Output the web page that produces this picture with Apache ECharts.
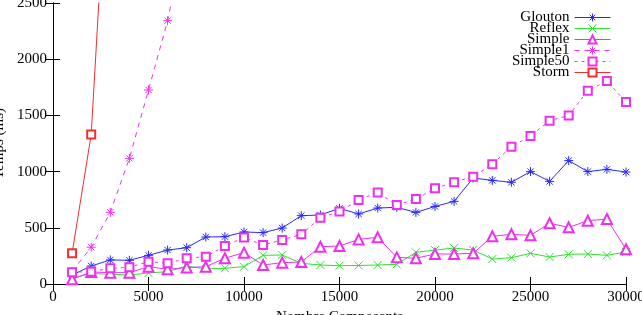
<!DOCTYPE html>
<html><head><meta charset="utf-8">
<script src="https://cdn.jsdelivr.net/npm/echarts@6/dist/echarts.min.js"></script>
<style>html,body{margin:0;padding:0;background:#fff}#c{width:642px;height:315px}</style>
</head><body><div id="c"></div>
<script>
const xs = [1000,2000,3000,4000,5000,6000,7000,8000,9000,10000,11000,12000,13000,14000,15000,16000,17000,18000,19000,20000,21000,22000,23000,24000,25000,26000,27000,28000,29000,30000];
const glouton = [80,160,214,211,255,302,323,418,421,463,457,498,608,614,673,623,676,682,637,690,735,943,922,905,1000,913,1098,1000,1020,996];
const reflex = [50,95,86,80,98,110,160,134,140,154,255,258,184,169,163,165,169,175,282,302,320,302,222,234,273,240,264,267,255,285];
const simple = [42,107,101,101,154,131,146,154,229,279,169,190,196,332,338,397,415,237,229,267,267,273,424,442,433,540,504,563,578,309];
const simple1X = [1000,2000,3000,4000,5000,6000,7000];
const simple1 = [112,327,638,1118,1726,2343,3170];
const simple50 = [105,110,140,149,199,184,229,243,338,413,347,392,442,590,644,747,815,703,756,851,905,955,1066,1222,1317,1453,1498,1720,1806,1619];
const stormX = [1000,2000,3000];
const storm = [273,1329,4280];
const xTicks = [0,5000,10000,15000,20000,25000,30000];
const yTicks = [0,500,1000,1500,2000,2500];

const pair = (x, y) => x.map((v, i) => [v, y[i]]);
const ASTER = 'path://M0,5L10,5M5,0L5,10M1.5,1.5L8.5,8.5M8.5,1.5L1.5,8.5';
const CROSS = 'path://M0,0L10,10M10,0L0,10';
const FONT = 'Liberation Serif';

function ser(name, data, color, symbol, size, dash) {
  return {
    name, type: 'line', data, xAxisIndex: 0, yAxisIndex: 0,
    symbol, symbolSize: size, showSymbol: true,
    lineStyle: {color, width: 1, type: dash || 'solid'},
    itemStyle: {color, borderColor: color, borderWidth: 1},
    emphasis: {disabled: true}, animation: false, clip: true
  };
}

const chart = echarts.init(document.getElementById('c'));
const axisBase = {
  type: 'value', min: 0,
  axisLine: {show: true, lineStyle: {color: '#000', width: 1}},
  axisTick: {show: true, inside: true, length: 7, lineStyle: {color: '#000'}},
  splitLine: {show: false}
};
const fmt = v => String(v);
chart.setOption({
  animation: false,
  backgroundColor: '#fff',
  grid: {left: 53, right: 16, top: 3, bottom: 31, containLabel: false, outerBoundsMode: 'none'},
  legend: {
    orient: 'vertical', right: 26, top: 5, align: 'right',
    itemGap: -4, itemWidth: 36, itemHeight: 10,
    itemStyle: {borderWidth: 1},
    lineStyle: {width: 1},
    textStyle: {fontFamily: FONT, fontSize: 15, color: '#000'},
    data: ['Glouton','Reflex','Simple','Simple1','Simple50','Storm']
  },
  xAxis: [
    Object.assign({}, axisBase, {max: 30000, interval: 5000, position: 'bottom',
      name: 'Nombre Composants', nameLocation: 'middle', nameGap: 20,
      nameTextStyle: {fontFamily: FONT, fontSize: 15, color: '#000'},
      axisLabel: {fontFamily: FONT, fontSize: 15, color: '#000', margin: 6, formatter: fmt}}),
    Object.assign({}, axisBase, {max: 30000, interval: 5000, position: 'top', axisLabel: {show: false}})
  ],
  yAxis: [
    Object.assign({}, axisBase, {max: 2500, interval: 500, position: 'left',
      name: 'Temps (ms)', nameLocation: 'middle', nameGap: 36, nameRotate: 90,
      nameTextStyle: {fontFamily: FONT, fontSize: 15, color: '#000'},
      axisLabel: {fontFamily: FONT, fontSize: 15, color: '#000', margin: 6, formatter: fmt}}),
    Object.assign({}, axisBase, {max: 2500, interval: 500, position: 'right', axisLabel: {show: false}})
  ],
  series: [
    ser('Glouton', pair(xs, glouton), '#2828ff', ASTER, 9),
    ser('Reflex', pair(xs, reflex), '#30e030', CROSS, 8),
    ser('Simple', pair(xs, simple), '#ee30ee', 'emptyTriangle', 10),
    ser('Simple1', pair(simple1X, simple1), '#ee30ee', ASTER, 9, [5, 5]),
    ser('Simple50', pair(xs, simple50), '#ee30ee', 'emptyRect', 8, [3, 4]),
    ser('Storm', pair(stormX, storm), '#ee3030', 'emptyRect', 8)
  ]
});
</script></body></html>
